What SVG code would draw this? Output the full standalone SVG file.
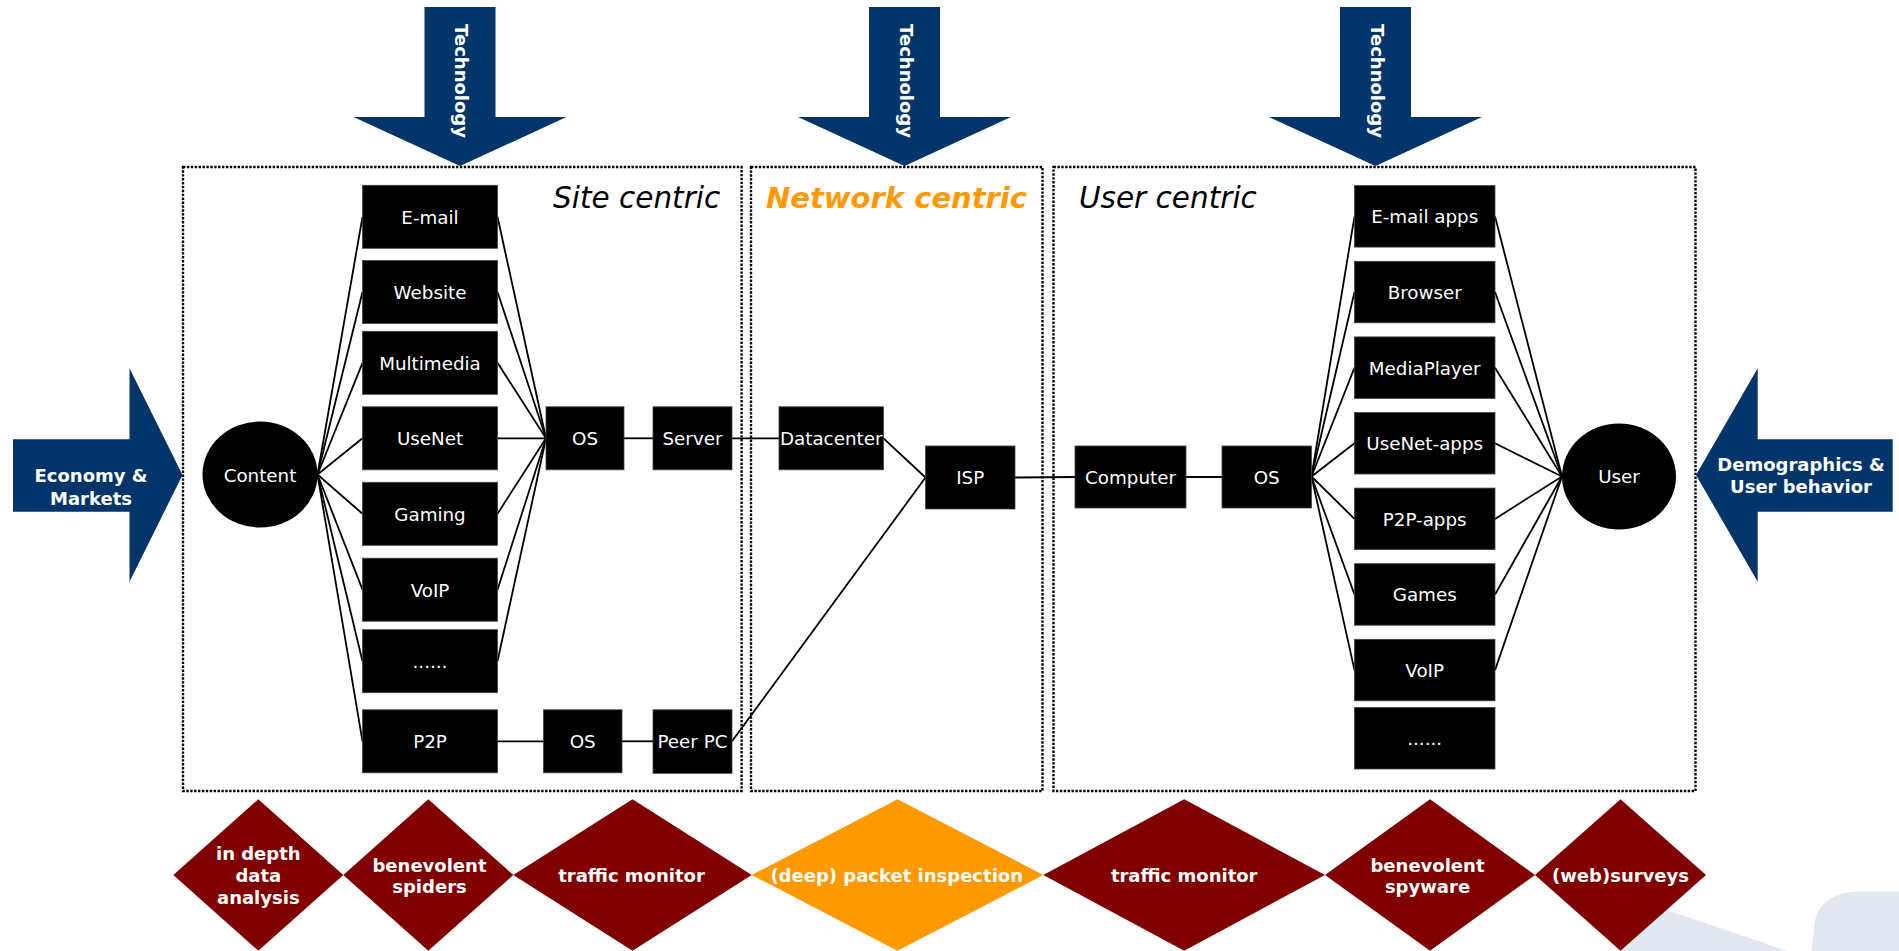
<svg xmlns="http://www.w3.org/2000/svg" width="1899" height="951" viewBox="0 0 1899 951">
<style>
.bg{fill:#fff}
.frame{fill:none;stroke:#000;stroke-width:2.4;stroke-dasharray:2.4 1.5}
.arrow{fill:#03356a}
.box{fill:#000;stroke:#444;stroke-width:0.8}
.lbl{font-family:"DejaVu Sans",Verdana,sans-serif;font-size:18.3px;fill:#fff;text-anchor:middle}
.blbl{font-family:"DejaVu Sans",Verdana,sans-serif;font-weight:bold;font-size:18px;fill:#fff;text-anchor:middle}
.title{font-family:"DejaVu Sans",Verdana,sans-serif;font-style:italic;font-size:29.5px;fill:#000}
.conn line{stroke:#000;stroke-width:1.8}
.dia{fill:#800000}
.diao{fill:#ff9900}
.deco{fill:#e2e7f0}
</style>
<rect class="bg" x="0" y="0" width="1899" height="951"/>
<!-- decoration -->
<polygon class="deco" points="1620,951 1640,911 1673,912 1787,951"/>
<path class="deco" d="M1811.5,951 L1815,920 Q1822,893 1858,891.5 L1899,891.5 L1899,951 Z"/>

<!-- frames -->
<g id="frames">
<rect class="frame" x="183" y="167" width="558.6" height="624"/>
<rect class="frame" x="751" y="167" width="291.5" height="624"/>
<rect class="frame" x="1053.5" y="167" width="642" height="624"/>
<text class="title" x="553" y="208">Site centric</text>
<text class="title" x="766" y="208" style="font-weight:bold;font-size:29px;fill:#ff9900">Network centric</text>
<text class="title" x="1079" y="208">User centric</text>
</g>

<!-- big arrows -->
<g id="tech1">
<path class="arrow" d="M424.5,7 H495.5 V117 H566.5 L460,166 L353.5,117 H424.5 Z"/>
<text class="blbl" transform="translate(455,81) rotate(90)">Technology</text>
</g>
<g id="tech2">
<path class="arrow" d="M869,7 H940 V117 H1011 L904.5,166 L798,117 H869 Z"/>
<text class="blbl" transform="translate(899.5,81) rotate(90)">Technology</text>
</g>
<g id="tech3">
<path class="arrow" d="M1340,7 H1411 V117 H1482 L1375.5,166 L1269,117 H1340 Z"/>
<text class="blbl" transform="translate(1370.5,81) rotate(90)">Technology</text>
</g>
<g id="economy">
<path class="arrow" d="M13,439.3 L129.5,439.3 L129.5,368.3 L182.5,475 L129.5,581.7 L129.5,511.7 L13,511.7 Z"/>
<text class="blbl" x="91" y="482.3">Economy &amp;</text>
<text class="blbl" x="91" y="505">Markets</text>
</g>
<g id="demographics">
<path class="arrow" d="M1892.7,439.3 L1757.7,439.3 L1757.7,368.3 L1696,475 L1757.7,581.7 L1757.7,511.7 L1892.7,511.7 Z"/>
<text class="blbl" x="1801" y="471">Demographics &amp;</text>
<text class="blbl" x="1801" y="493.3">User behavior</text>
</g>

<!-- connectors -->
<g id="connectors" class="conn">
<line x1="317.5" y1="474.5" x2="362.5" y2="216.8"/>
<line x1="317.5" y1="474.5" x2="362.5" y2="292"/>
<line x1="317.5" y1="474.5" x2="362.5" y2="362.8"/>
<line x1="317.5" y1="474.5" x2="362.5" y2="438.3"/>
<line x1="317.5" y1="474.5" x2="362.5" y2="513.8"/>
<line x1="317.5" y1="474.5" x2="362.5" y2="589.7"/>
<line x1="317.5" y1="474.5" x2="362.5" y2="661.2"/>
<line x1="317.5" y1="474.5" x2="362.5" y2="741.3"/>
<line x1="497.5" y1="216.8" x2="546" y2="438.3"/>
<line x1="497.5" y1="292" x2="546" y2="438.3"/>
<line x1="497.5" y1="362.8" x2="546" y2="438.3"/>
<line x1="497.5" y1="438.3" x2="546" y2="438.3"/>
<line x1="497.5" y1="513.8" x2="546" y2="438.3"/>
<line x1="497.5" y1="589.7" x2="546" y2="438.3"/>
<line x1="497.5" y1="661.2" x2="546" y2="438.3"/>
<line x1="624" y1="438.3" x2="653" y2="438.3"/>
<line x1="732" y1="438.3" x2="779" y2="438.3"/>
<line x1="883.5" y1="438.3" x2="925.5" y2="477.5"/>
<line x1="497.5" y1="741.3" x2="543.5" y2="741.3"/>
<line x1="622" y1="741.3" x2="653" y2="741.3"/>
<line x1="732" y1="741.3" x2="925.5" y2="477.5"/>
<line x1="1015" y1="477.5" x2="1075" y2="477"/>
<line x1="1186" y1="477" x2="1222" y2="477"/>
<line x1="1311.5" y1="476.5" x2="1354.5" y2="216.4"/>
<line x1="1311.5" y1="476.5" x2="1354.5" y2="292"/>
<line x1="1311.5" y1="476.5" x2="1354.5" y2="367.7"/>
<line x1="1311.5" y1="476.5" x2="1354.5" y2="443.3"/>
<line x1="1311.5" y1="476.5" x2="1354.5" y2="518.9"/>
<line x1="1311.5" y1="476.5" x2="1354.5" y2="594.5"/>
<line x1="1311.5" y1="476.5" x2="1354.5" y2="670.1"/>
<line x1="1495" y1="216.4" x2="1562" y2="476.5"/>
<line x1="1495" y1="292" x2="1562" y2="476.5"/>
<line x1="1495" y1="367.7" x2="1562" y2="476.5"/>
<line x1="1495" y1="443.3" x2="1562" y2="476.5"/>
<line x1="1495" y1="518.9" x2="1562" y2="476.5"/>
<line x1="1495" y1="594.5" x2="1562" y2="476.5"/>
<line x1="1495" y1="670.1" x2="1562" y2="476.5"/>
</g>

<!-- nodes -->
<g id="content"><ellipse cx="260" cy="474.5" rx="57.5" ry="53" fill="#000"/><text class="lbl" x="260" y="481.5">Content</text></g>
<g id="email"><rect class="box" x="362.5" y="185.3" width="135" height="63"/><text class="lbl" x="430" y="223.6">E-mail</text></g>
<g id="website"><rect class="box" x="362.5" y="260.5" width="135" height="63"/><text class="lbl" x="430" y="298.8">Website</text></g>
<g id="multimedia"><rect class="box" x="362.5" y="331.3" width="135" height="63"/><text class="lbl" x="430" y="369.6">Multimedia</text></g>
<g id="usenet"><rect class="box" x="362.5" y="406.8" width="135" height="63"/><text class="lbl" x="430" y="445.1">UseNet</text></g>
<g id="gaming"><rect class="box" x="362.5" y="482.3" width="135" height="63"/><text class="lbl" x="430" y="520.6">Gaming</text></g>
<g id="voip"><rect class="box" x="362.5" y="558.2" width="135" height="63"/><text class="lbl" x="430" y="596.5">VoIP</text></g>
<g id="more1"><rect class="box" x="362.5" y="629.7" width="135" height="63"/><text class="lbl" x="430" y="668">......</text></g>
<g id="p2p"><rect class="box" x="362.5" y="709.8" width="135" height="63"/><text class="lbl" x="430" y="748.1">P2P</text></g>
<g id="os1"><rect class="box" x="546" y="406.8" width="78" height="63"/><text class="lbl" x="585" y="445.1">OS</text></g>
<g id="server"><rect class="box" x="653" y="406.8" width="79" height="63"/><text class="lbl" x="692.5" y="445.1">Server</text></g>
<g id="os2"><rect class="box" x="543.5" y="709.8" width="78.5" height="63"/><text class="lbl" x="582.7" y="748.1">OS</text></g>
<g id="peerpc"><rect class="box" x="653" y="709.8" width="79" height="63.5"/><text class="lbl" x="692.5" y="748.1">Peer PC</text></g>
<g id="datacenter"><rect class="box" x="779" y="406.8" width="104.5" height="63"/><text class="lbl" x="831.2" y="445.1">Datacenter</text></g>
<g id="isp"><rect class="box" x="925.5" y="446" width="89.5" height="63"/><text class="lbl" x="970.2" y="484.3">ISP</text></g>
<g id="computer"><rect class="box" x="1075" y="446" width="111" height="62"/><text class="lbl" x="1130.5" y="483.8">Computer</text></g>
<g id="os3"><rect class="box" x="1222" y="446" width="89.5" height="62"/><text class="lbl" x="1266.7" y="483.8">OS</text></g>
<g id="emailapps"><rect class="box" x="1354.5" y="185.6" width="140.5" height="61.5"/><text class="lbl" x="1424.7" y="223.2">E-mail apps</text></g>
<g id="browser"><rect class="box" x="1354.5" y="261.3" width="140.5" height="61.5"/><text class="lbl" x="1424.7" y="298.8">Browser</text></g>
<g id="mediaplayer"><rect class="box" x="1354.5" y="336.9" width="140.5" height="61.5"/><text class="lbl" x="1424.7" y="374.5">MediaPlayer</text></g>
<g id="usenetapps"><rect class="box" x="1354.5" y="412.5" width="140.5" height="61.5"/><text class="lbl" x="1424.7" y="450.1">UseNet-apps</text></g>
<g id="p2papps"><rect class="box" x="1354.5" y="488.1" width="140.5" height="61.5"/><text class="lbl" x="1424.7" y="525.7">P2P-apps</text></g>
<g id="games"><rect class="box" x="1354.5" y="563.7" width="140.5" height="61.5"/><text class="lbl" x="1424.7" y="601.3">Games</text></g>
<g id="voip2"><rect class="box" x="1354.5" y="639.3" width="140.5" height="61.5"/><text class="lbl" x="1424.7" y="676.9">VoIP</text></g>
<g id="more2"><rect class="box" x="1354.5" y="707.5" width="140.5" height="61.5"/><text class="lbl" x="1424.7" y="745.1">......</text></g>
<g id="user"><ellipse cx="1619" cy="476.5" rx="57" ry="53" fill="#000"/><text class="lbl" x="1619" y="483.3">User</text></g>

<!-- bottom diamonds -->
<g id="d1"><polygon class="dia" points="258.3,799.3 343.3,875 258.3,950.7 173.3,875"/>
<text class="blbl" x="258.3" y="860">in depth</text><text class="blbl" x="258.3" y="882">data</text><text class="blbl" x="258.3" y="904.3">analysis</text></g>
<g id="d2"><polygon class="dia" points="428.3,799.3 513.3,875 428.3,950.7 343.3,875"/>
<text class="blbl" x="429.5" y="871.7">benevolent</text><text class="blbl" x="429.5" y="893.3">spiders</text></g>
<g id="d3"><polygon class="dia" points="632.5,799.3 751.7,875 632.5,950.7 513.3,875"/>
<text class="blbl" x="631.5" y="881.7">traffic monitor</text></g>
<g id="d4"><polygon class="diao" points="897.5,799.3 1043.3,875 897.5,950.7 751.7,875"/>
<text class="blbl" x="896.7" y="881.7">(deep) packet inspection</text></g>
<g id="d5"><polygon class="dia" points="1184.2,799.3 1325,875 1184.2,950.7 1043.3,875"/>
<text class="blbl" x="1184.2" y="881.7">traffic monitor</text></g>
<g id="d6"><polygon class="dia" points="1430,799.3 1535,875 1430,950.7 1325,875"/>
<text class="blbl" x="1427.5" y="871.7">benevolent</text><text class="blbl" x="1427.5" y="893.3">spyware</text></g>
<g id="d7"><polygon class="dia" points="1620.5,799.3 1706,875 1620.5,950.7 1535,875"/>
<text class="blbl" x="1620.5" y="881.7">(web)surveys</text></g>
</svg>
